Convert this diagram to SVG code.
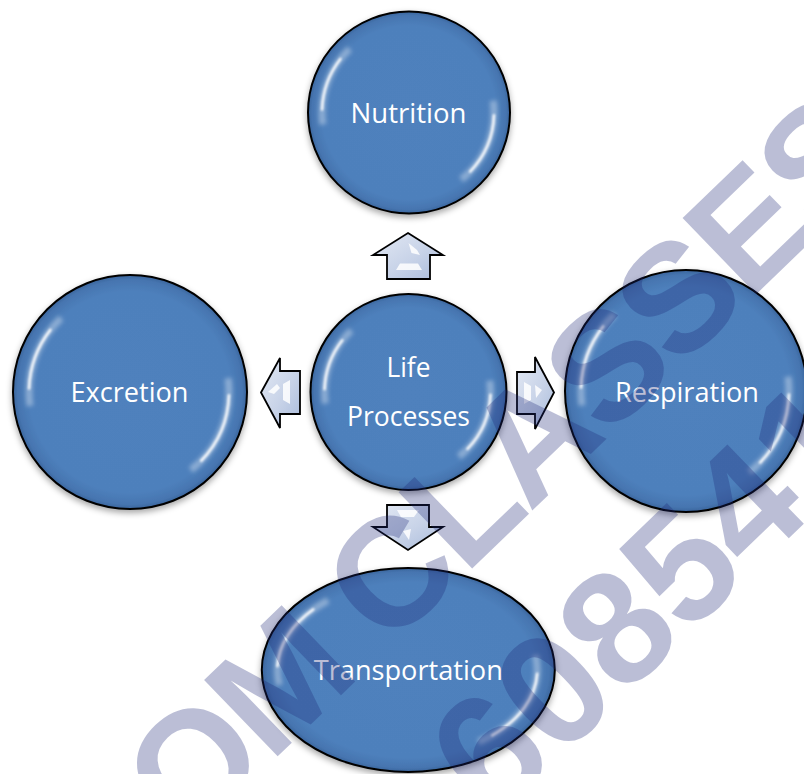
<svg xmlns="http://www.w3.org/2000/svg" width="804" height="774" viewBox="0 0 804 774">
  <defs>
    <radialGradient id="ballFill" cx="0.5" cy="0.5" r="0.5">
      <stop offset="0" stop-color="#4f81bd"/>
      <stop offset="0.86" stop-color="#4e80bc"/>
      <stop offset="0.96" stop-color="#4675b0"/>
      <stop offset="1" stop-color="#3b659c"/>
    </radialGradient>
    <linearGradient id="arrowFill" x1="0" y1="0" x2="1" y2="1">
      <stop offset="0" stop-color="#e3e9f4"/>
      <stop offset="0.55" stop-color="#c8d3e8"/>
      <stop offset="1" stop-color="#a9bbdb"/>
    </linearGradient>
    <filter id="shadow" x="-20%" y="-20%" width="140%" height="140%">
      <feGaussianBlur in="SourceAlpha" stdDeviation="3"/>
      <feOffset dx="0" dy="3" result="b"/>
      <feFlood flood-color="#000" flood-opacity="0.35"/>
      <feComposite in2="b" operator="in"/>
      <feMerge><feMergeNode/><feMergeNode in="SourceGraphic"/></feMerge>
    </filter>
    <filter id="soft" x="-20%" y="-20%" width="140%" height="140%">
      <feGaussianBlur stdDeviation="0.9"/>
    </filter>
    <filter id="glow" x="-20%" y="-20%" width="140%" height="140%">
      <feGaussianBlur stdDeviation="2.2"/>
    </filter>
  </defs>
  <style>
    .ball { fill: url(#ballFill); stroke: #000; stroke-width: 2; filter: url(#shadow); }
    .hlw { fill: none; stroke: #ffffff; stroke-width: 7; stroke-opacity: 0.35; filter: url(#glow); }
    .hl { fill: none; stroke: #ffffff; stroke-width: 2.6; stroke-linecap: round; stroke-opacity: 0.95; filter: url(#soft); }
    .lbl { font-family: "Open Sans", "Liberation Sans", sans-serif; font-size: 28px; fill: #ffffff; text-anchor: middle; }
    .arrow { fill: url(#arrowFill); stroke: #000; stroke-width: 1.8; stroke-linejoin: miter; }
    .shine { fill: #ffffff; fill-opacity: 0.85; }
    .wm { font-family: "Liberation Sans", "DejaVu Sans", sans-serif; font-weight: bold; fill: #1e2878; fill-opacity: 0.3; }
  </style>

  <g id="connectors">
    <g id="arrow-up">
      <path class="arrow" d="M408,233 L443,255 L430,255 L430,279 L387,279 L387,255 L373,255 Z"/>
      <path class="shine" d="M400,263.5 L418,263.5 L422,270 L396,270 Z"/>
      <path class="shine" d="M408.5,243 L417,250 L420,255 L411.5,253 Z"/>
    </g>
    <g id="arrow-left">
      <path class="arrow" d="M261,392.5 L280,358 L280,371 L300,371 L300,414 L280,414 L280,428 Z"/>
      <path class="shine" d="M283,384 L290,380 L290,404 L283,400 Z"/>
      <path class="shine" d="M268,392 L277,384 L280,388 L274,394 Z"/>
    </g>
    <g id="arrow-right">
      <path class="arrow" d="M554,392.5 L535,357 L535,372 L517,372 L517,414 L535,414 L535,429 Z"/>
      <path class="shine" d="M524,382 L531,386 L531,400 L524,404 Z"/>
      <path class="shine" d="M535,385 L542,390 L536,398 Z"/>
    </g>
    <g id="arrow-down">
      <path class="arrow" d="M387,505 L429,505 L429,527 L443,527 L408,550 L373,527 L387,527 Z"/>
      <path class="shine" d="M397,510 L419,510 L414,517 L401,517 Z"/>
      <path class="shine" d="M403,531 L411,529 L409,540 Z"/>
    </g>
  </g>

  <g id="node-nutrition">
    <circle class="ball" cx="409" cy="112.5" r="101"/>
    <circle class="hlw" cx="409" cy="112.5" r="87" pathLength="360" stroke-dasharray="55 305" stroke-dashoffset="-172"/>
    <circle class="hl" cx="409" cy="112.5" r="87" pathLength="360" stroke-dasharray="36 324" stroke-dashoffset="-182"/>
    <circle class="hlw" cx="409" cy="112.5" r="85" pathLength="360" stroke-dasharray="60 300" stroke-dashoffset="8"/>
    <circle class="hl" cx="409" cy="112.5" r="85" pathLength="360" stroke-dasharray="42 318" stroke-dashoffset="-2"/>
    <text class="lbl" x="408.5" y="123" textLength="116" lengthAdjust="spacingAndGlyphs">Nutrition</text>
  </g>

  <g id="node-life-processes">
    <circle class="ball" cx="408.5" cy="392" r="98"/>
    <circle class="hlw" cx="408.5" cy="392" r="84" pathLength="360" stroke-dasharray="55 305" stroke-dashoffset="-172"/>
    <circle class="hl" cx="408.5" cy="392" r="84" pathLength="360" stroke-dasharray="36 324" stroke-dashoffset="-182"/>
    <circle class="hlw" cx="408.5" cy="392" r="82" pathLength="360" stroke-dasharray="60 300" stroke-dashoffset="8"/>
    <circle class="hl" cx="408.5" cy="392" r="82" pathLength="360" stroke-dasharray="42 318" stroke-dashoffset="-2"/>
    <text class="lbl" x="408.5" y="377" textLength="44" lengthAdjust="spacingAndGlyphs">Life</text>
    <text class="lbl" x="408.5" y="426" textLength="123" lengthAdjust="spacingAndGlyphs">Processes</text>
  </g>

  <g id="node-excretion">
    <circle class="ball" cx="130" cy="392" r="117"/>
    <circle class="hlw" cx="130" cy="392" r="101" pathLength="360" stroke-dasharray="55 305" stroke-dashoffset="-172"/>
    <circle class="hl" cx="130" cy="392" r="101" pathLength="360" stroke-dasharray="36 324" stroke-dashoffset="-182"/>
    <circle class="hlw" cx="130" cy="392" r="99" pathLength="360" stroke-dasharray="60 300" stroke-dashoffset="8"/>
    <circle class="hl" cx="130" cy="392" r="99" pathLength="360" stroke-dasharray="42 318" stroke-dashoffset="-2"/>
    <text class="lbl" x="129.5" y="402" textLength="118" lengthAdjust="spacingAndGlyphs">Excretion</text>
  </g>

  <g id="node-respiration">
    <circle class="ball" cx="686" cy="391" r="121"/>
    <circle class="hlw" cx="686" cy="391" r="105" pathLength="360" stroke-dasharray="55 305" stroke-dashoffset="-172"/>
    <circle class="hl" cx="686" cy="391" r="105" pathLength="360" stroke-dasharray="36 324" stroke-dashoffset="-182"/>
    <circle class="hlw" cx="686" cy="391" r="103" pathLength="360" stroke-dasharray="60 300" stroke-dashoffset="8"/>
    <circle class="hl" cx="686" cy="391" r="103" pathLength="360" stroke-dasharray="42 318" stroke-dashoffset="-2"/>
    <text class="lbl" x="687" y="401.5" textLength="144" lengthAdjust="spacingAndGlyphs">Respiration</text>
  </g>

  <g id="node-transportation">
    <ellipse class="ball" cx="408.3" cy="670" rx="146.5" ry="102"/>
    <ellipse class="hlw" cx="408.3" cy="670" rx="131" ry="88" pathLength="360" stroke-dasharray="55 305" stroke-dashoffset="-172"/>
    <ellipse class="hl" cx="408.3" cy="670" rx="131" ry="88" pathLength="360" stroke-dasharray="36 324" stroke-dashoffset="-182"/>
    <ellipse class="hlw" cx="408.3" cy="670" rx="129" ry="86" pathLength="360" stroke-dasharray="60 300" stroke-dashoffset="8"/>
    <ellipse class="hl" cx="408.3" cy="670" rx="129" ry="86" pathLength="360" stroke-dasharray="42 318" stroke-dashoffset="-2"/>
    <text class="lbl" x="408.3" y="680" textLength="189" lengthAdjust="spacingAndGlyphs">Transportation</text>
  </g>

  <g id="watermark">
    <text class="wm" font-size="154" letter-spacing="-4" transform="translate(187,844) rotate(-44)">OM CLASSES</text>
    <text class="wm" font-size="160" transform="translate(495,822) rotate(-44)">608541</text>
  </g>
</svg>
